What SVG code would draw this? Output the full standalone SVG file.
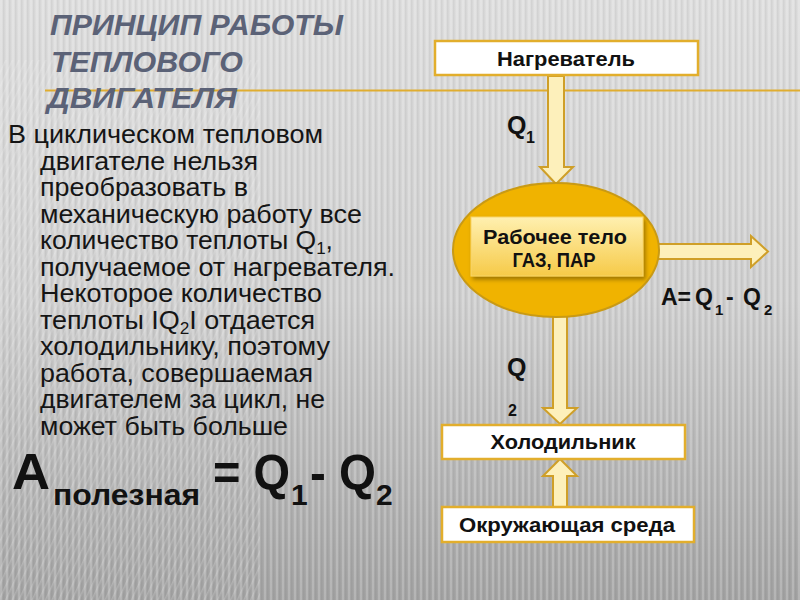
<svg xmlns="http://www.w3.org/2000/svg" width="800" height="600" viewBox="0 0 800 600">
<defs>
  <linearGradient id="bg" x1="0" y1="0" x2="0" y2="1">
    <stop offset="0" stop-color="#dedede"/>
    <stop offset="0.5" stop-color="#cfcfcf"/>
    <stop offset="1" stop-color="#a4a4a4"/>
  </linearGradient>
  <pattern id="vstripes" width="6" height="10" patternUnits="userSpaceOnUse">
    <rect x="0" y="0" width="2" height="10" fill="#ffffff" opacity="0.18"/>
    <rect x="3" y="0" width="1.5" height="10" fill="#000000" opacity="0.05"/>
  </pattern>
  <pattern id="dstripes" width="6" height="6" patternUnits="userSpaceOnUse" patternTransform="rotate(25)">
    <rect x="0" y="0" width="1.5" height="6" fill="#ffffff" opacity="0.3"/>
  </pattern>
  <linearGradient id="inner" x1="0" y1="0" x2="0" y2="1">
    <stop offset="0" stop-color="#fff0b0"/>
    <stop offset="1" stop-color="#f6ca48"/>
  </linearGradient>
  <filter id="sh" x="-10%" y="-10%" width="130%" height="140%">
    <feDropShadow dx="2" dy="3" stdDeviation="2" flood-color="#000" flood-opacity="0.35"/>
  </filter>
  <style>
    .title{font-family:"Liberation Sans",Arial,sans-serif;font-weight:bold;font-style:italic;font-size:30px;fill:#5b6277}
    .body{font-family:"Liberation Sans",Arial,sans-serif;font-size:25px;fill:#151515}
    .box{fill:#ffffff;stroke:#e2ae2c;stroke-width:2.5}
    .lbl{font-family:"Liberation Sans",Arial,sans-serif;font-weight:bold;font-size:21px;fill:#111;text-anchor:middle}
    .arrow{fill:#fdf0bb;stroke:#cf9f28;stroke-width:2}
    .q{font-family:"Liberation Sans",Arial,sans-serif;font-weight:bold;fill:#111}
  </style>
</defs>

<rect width="800" height="600" fill="url(#bg)"/>
<rect width="800" height="600" fill="url(#vstripes)"/>
<rect x="0" y="60" width="260" height="540" fill="url(#dstripes)" opacity="0.6"/>

<line x1="45" y1="90.5" x2="800" y2="90.5" stroke="#e0ad30" stroke-width="2"/>

<g id="title">
  <text class="title" x="50" y="35" textLength="293" lengthAdjust="spacingAndGlyphs">ПРИНЦИП РАБОТЫ</text>
  <text class="title" x="51" y="72" textLength="192" lengthAdjust="spacingAndGlyphs">ТЕПЛОВОГО</text>
  <text class="title" x="47" y="108" textLength="190" lengthAdjust="spacingAndGlyphs">ДВИГАТЕЛЯ</text>
</g>

<g id="body-text" class="body">
  <text x="8" y="143" textLength="315" lengthAdjust="spacingAndGlyphs">В циклическом тепловом</text>
  <text x="40" y="169.5" textLength="218" lengthAdjust="spacingAndGlyphs">двигателе нельзя</text>
  <text x="40" y="196" textLength="208" lengthAdjust="spacingAndGlyphs">преобразовать в</text>
  <text x="40" y="222.5" textLength="322" lengthAdjust="spacingAndGlyphs">механическую работу все</text>
  <text x="40" y="249" textLength="293" lengthAdjust="spacingAndGlyphs">количество теплоты Q<tspan font-size="16" dy="5">1</tspan><tspan dy="-5">,</tspan></text>
  <text x="40" y="275.5" textLength="355" lengthAdjust="spacingAndGlyphs">получаемое от нагревателя.</text>
  <text x="40" y="302" textLength="282" lengthAdjust="spacingAndGlyphs">Некоторое количество</text>
  <text x="40" y="328.5" textLength="275" lengthAdjust="spacingAndGlyphs">теплоты IQ<tspan font-size="16" dy="5">2</tspan><tspan dy="-5">I отдается</tspan></text>
  <text x="40" y="355" textLength="290" lengthAdjust="spacingAndGlyphs">холодильнику, поэтому</text>
  <text x="40" y="381.5" textLength="273" lengthAdjust="spacingAndGlyphs">работа, совершаемая</text>
  <text x="40" y="408" textLength="285" lengthAdjust="spacingAndGlyphs">двигателем за цикл, не</text>
  <text x="40" y="434.5" textLength="248" lengthAdjust="spacingAndGlyphs">может быть больше</text>
</g>

<g id="formula" class="q">
  <text x="12" y="489" font-size="50" textLength="38" lengthAdjust="spacingAndGlyphs">A</text>
  <text x="53" y="505" font-size="30" textLength="147" lengthAdjust="spacingAndGlyphs">полезная</text>
  <text x="213" y="490" font-size="50" textLength="77" lengthAdjust="spacingAndGlyphs">= Q</text>
  <text x="291" y="505" font-size="30">1</text>
  <text x="310" y="490" font-size="50" textLength="66" lengthAdjust="spacingAndGlyphs">- Q</text>
  <text x="376" y="505" font-size="30">2</text>
</g>

<g id="connectors">
  <path class="arrow" d="M548,76 L564,76 L564,167 L573,167 L556,184 L540,167 L548,167 Z"/>
  <path class="arrow" d="M656,244 L751,244 L751,236 L768,251.5 L751,267 L751,259 L656,259 Z"/>
  <path class="arrow" d="M553,315 L567,315 L567,408 L577,408 L560,424 L543,408 L553,408 Z"/>
  <path class="arrow" d="M553,507 L567,507 L567,476 L577,476 L560,459 L543,476 L553,476 Z"/>
</g>

<g id="heater">
  <rect class="box" x="435" y="41" width="263" height="34"/>
  <text class="lbl" x="566" y="65.5" textLength="138" lengthAdjust="spacingAndGlyphs">Нагреватель</text>
</g>

<g id="q1-label" class="q">
  <text x="507" y="134" font-size="25">Q</text>
  <text x="526" y="143" font-size="16">1</text>
</g>

<g id="working-body">
  <ellipse cx="556" cy="250" rx="103" ry="67" fill="#f0b300" stroke="#c99a14" stroke-width="2"/>
  <rect x="471" y="217" width="172" height="59" fill="url(#inner)" stroke="#f7d46a" stroke-width="1" filter="url(#sh)"/>
  <text class="lbl" x="555" y="244" font-size="20" textLength="144" lengthAdjust="spacingAndGlyphs">Рабочее тело</text>
  <text class="lbl" x="554" y="267" font-size="20" textLength="83" lengthAdjust="spacingAndGlyphs">ГАЗ, ПАР</text>
</g>

<g id="work-label" class="q">
  <text x="661" y="305" font-size="23">A=</text>
  <text x="695" y="305" font-size="23">Q</text>
  <text x="715" y="315" font-size="15">1</text>
  <text x="726" y="305" font-size="23">-</text>
  <text x="743" y="305" font-size="23">Q</text>
  <text x="764" y="315" font-size="15">2</text>
</g>

<g id="q2-label" class="q">
  <text x="507" y="376" font-size="25">Q</text>
  <text x="508" y="416" font-size="16">2</text>
</g>

<g id="cooler">
  <rect class="box" x="442" y="425" width="243" height="34"/>
  <text class="lbl" x="563" y="449" textLength="145" lengthAdjust="spacingAndGlyphs">Холодильник</text>
</g>

<g id="environment">
  <rect class="box" x="442" y="507" width="252" height="35"/>
  <text class="lbl" x="567" y="532" textLength="216" lengthAdjust="spacingAndGlyphs">Окружающая среда</text>
</g>
</svg>
